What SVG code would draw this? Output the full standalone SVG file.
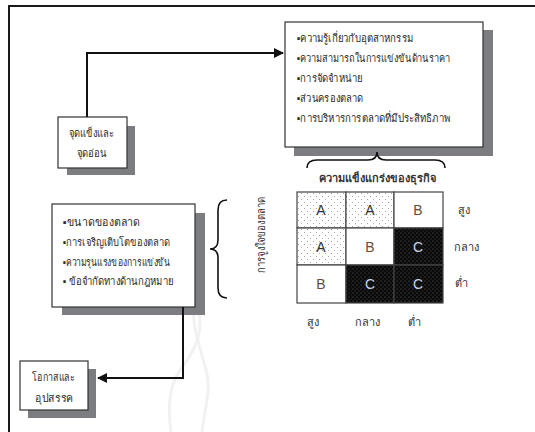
<svg xmlns="http://www.w3.org/2000/svg" width="535" height="432" viewBox="0 0 535 432">
  <style>
    .box { fill: #ffffff; stroke: #333333; stroke-width: 1.2; }
    .shadow { fill: #7b7d80; }
    .th { font-family: "Liberation Serif", "DejaVu Serif", serif; font-size: 11px; fill: #2a2a2a; }
    .thc { font-family: "Liberation Serif", "DejaVu Serif", serif; font-size: 11px; fill: #2a2a2a; }
    .lbl { font-family: "Liberation Sans", "DejaVu Sans", sans-serif; font-size: 11px; fill: #333333; }
    .cell { stroke: #444444; stroke-width: 1.2; }
    .letter { font-family: "Liberation Sans", "DejaVu Sans", sans-serif; font-size: 14px; text-anchor: middle; }
    .wire { fill: none; stroke: #111111; stroke-width: 2; }
    .brace { fill: none; stroke: #111111; stroke-width: 1.6; }
  </style>
  <defs>
    <marker id="arrow" viewBox="0 0 10 10" refX="9" refY="5" markerWidth="5" markerHeight="5" orient="auto">
      <path d="M0,0 L10,5 L0,10 z" fill="#111111"/>
    </marker>
    <pattern id="dots" width="6" height="6" patternUnits="userSpaceOnUse">
      <rect width="6" height="6" fill="#ffffff"/>
      <circle cx="1.5" cy="1.5" r="0.5" fill="#888888"/>
      <circle cx="4.5" cy="4.5" r="0.5" fill="#888888"/>
    </pattern>
    <pattern id="darkdots" width="4" height="4" patternUnits="userSpaceOnUse">
      <rect width="4" height="4" fill="#0a0a0a"/>
      <circle cx="1" cy="1" r="0.55" fill="#6a6a6a"/>
      <circle cx="3" cy="3" r="0.55" fill="#4a4a4a"/>
    </pattern>
  </defs>

  <rect width="535" height="432" fill="#ffffff"/>

  <!-- faint emblem watermark -->
  <g id="watermark" fill="none" stroke="#f1f1f1" stroke-width="3">
    <path d="M195,300 C205,325 200,345 180,370 C168,388 168,410 171,432"/>
    <path d="M195,300 C190,325 200,345 206,370 C212,390 204,410 202,432"/>
  </g>

  <!-- outer frame -->
  <path d="M9,440 L9,6 L540,6" fill="none" stroke="#1a1a1a" stroke-width="2"/>

  <!-- industry factors -->
  <g id="node-industry">
    <rect class="shadow" x="294" y="30" width="199" height="126"/>
    <rect class="box" x="285" y="22" width="198" height="125"/>
    <text class="th" x="297" y="42" textLength="116" lengthAdjust="spacingAndGlyphs">▪ความรู้เกี่ยวกับอุตสาหกรรม</text>
    <text class="th" x="297" y="62" textLength="153" lengthAdjust="spacingAndGlyphs">▪ความสามารถในการแข่งขันด้านราคา</text>
    <text class="th" x="297" y="82" textLength="65" lengthAdjust="spacingAndGlyphs">▪การจัดจำหน่าย</text>
    <text class="th" x="297" y="102" textLength="66" lengthAdjust="spacingAndGlyphs">▪ส่วนครองตลาด</text>
    <text class="th" x="297" y="122" textLength="153" lengthAdjust="spacingAndGlyphs">▪การบริหารการตลาดที่มีประสิทธิภาพ</text>
  </g>

  <!-- strengths and weaknesses -->
  <g id="node-strengths">
    <rect class="shadow" x="67" y="126" width="68" height="49"/>
    <rect class="box" x="58" y="117" width="69" height="51"/>
    <text class="thc" x="69" y="137" textLength="45" lengthAdjust="spacingAndGlyphs">จุดแข็งและ</text>
    <text class="thc" x="77" y="157" textLength="30" lengthAdjust="spacingAndGlyphs">จุดอ่อน</text>
  </g>

  <!-- market factors -->
  <g id="node-market">
    <rect class="shadow" x="62" y="213" width="143" height="102"/>
    <rect class="box" x="52" y="204" width="143" height="103"/>
    <text class="th" x="63" y="226" textLength="77" lengthAdjust="spacingAndGlyphs">▪ขนาดของตลาด</text>
    <text class="th" x="63" y="246" textLength="107" lengthAdjust="spacingAndGlyphs">▪การเจริญเติบโตของตลาด</text>
    <text class="th" x="63" y="266" textLength="107" lengthAdjust="spacingAndGlyphs">▪ความรุนแรงของการแข่งขัน</text>
    <text class="th" x="63" y="285" textLength="110" lengthAdjust="spacingAndGlyphs">▪ ข้อจำกัดทางด้านกฎหมาย</text>
  </g>

  <!-- opportunities and threats -->
  <g id="node-opportunities">
    <rect class="shadow" x="28" y="369" width="68" height="49"/>
    <rect class="box" x="20" y="361" width="68" height="49"/>
    <text class="thc" x="32" y="381" textLength="43" lengthAdjust="spacingAndGlyphs">โอกาสและ</text>
    <text class="thc" x="35" y="402" textLength="38" lengthAdjust="spacingAndGlyphs">อุปสรรค</text>
  </g>

  <!-- market attractiveness brace and label -->
  <g id="node-attractiveness">
    <path class="brace" d="M227,200 Q218,200 218,210 L218,240 Q218,249 210,249 Q218,249 218,258 L218,288 Q218,298 227,298"/>
    <text class="lbl" font-size="10" transform="translate(265,273) rotate(-90)" textLength="76" lengthAdjust="spacingAndGlyphs">การจูงใจของตลาด</text>
  </g>

  <!-- business strength brace and label -->
  <g id="node-strength">
    <path class="brace" d="M307,168 Q307,160 317,160 L368,160 Q377,160 377,152 Q377,160 386,160 L435,160 Q445,160 445,168"/>
    <text class="lbl" x="377" y="182" text-anchor="middle" font-weight="bold">ความแข็งแกร่งของธุรกิจ</text>
  </g>

  <!-- attractiveness / strength matrix -->
  <g id="node-matrix">
    <rect class="cell" x="297" y="192" width="49" height="36" fill="url(#dots)"/>
    <rect class="cell" x="346" y="192" width="48" height="36" fill="url(#dots)"/>
    <rect class="cell" x="394" y="192" width="49" height="36" fill="#ffffff"/>
    <rect class="cell" x="297" y="228" width="49" height="37" fill="url(#dots)"/>
    <rect class="cell" x="346" y="228" width="48" height="37" fill="#ffffff"/>
    <rect class="cell" x="394" y="228" width="49" height="37" fill="url(#darkdots)"/>
    <rect class="cell" x="297" y="265" width="49" height="38" fill="#ffffff"/>
    <rect class="cell" x="346" y="265" width="48" height="38" fill="url(#darkdots)"/>
    <rect class="cell" x="394" y="265" width="49" height="38" fill="url(#darkdots)"/>
    <text class="letter" x="321" y="215" fill="#333333">A</text>
    <text class="letter" x="370" y="215" fill="#333333">A</text>
    <text class="letter" x="418" y="215" fill="#6b4a38">B</text>
    <text class="letter" x="321" y="252" fill="#333333">A</text>
    <text class="letter" x="370" y="252" fill="#6b4a38">B</text>
    <text class="letter" x="418" y="252" fill="#c9d4e6">C</text>
    <text class="letter" x="321" y="289" fill="#6b4a38">B</text>
    <text class="letter" x="370" y="289" fill="#c9d4e6">C</text>
    <text class="letter" x="418" y="289" fill="#c9d4e6">C</text>
    <text class="lbl" x="458" y="214">สูง</text>
    <text class="lbl" x="454" y="251">กลาง</text>
    <text class="lbl" x="455" y="287">ต่ำ</text>
    <text class="lbl" x="307" y="326">สูง</text>
    <text class="lbl" x="355" y="326">กลาง</text>
    <text class="lbl" x="408" y="326">ต่ำ</text>
  </g>

  <!-- connectors -->
  <g id="connectors">
    <path class="wire" d="M87,117 L87,53 L283,53" marker-end="url(#arrow)"/>
    <path class="wire" d="M183,307 L183,378 L98,378" marker-end="url(#arrow)"/>
  </g>
</svg>
